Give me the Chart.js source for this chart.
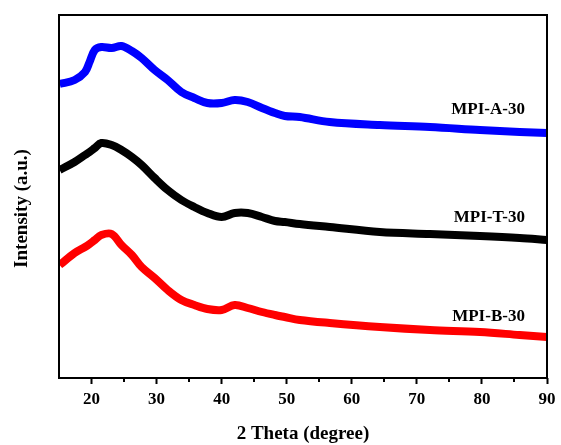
<!DOCTYPE html>
<html>
<head>
<meta charset="utf-8">
<script src="https://cdn.jsdelivr.net/npm/chart.js@4"></script>
<style>
  html, body { margin: 0; padding: 0; background: #fff; }
  #wrap { width: 561px; height: 445px; }
</style>
</head>
<body>
<div id="wrap"><canvas id="xrd"></canvas></div>
<script>
/* XRD patterns of MPI-A/T/B-30 — broad amorphous halos */
const theta = [15.1, 17.4, 19.0, 19.7, 20.5, 21.5, 23.1, 24.6, 26.2, 27.7, 29.7, 31.7, 33.8, 35.8,
    37.8, 40.0, 42.0, 44.0, 46.2, 48.2, 49.7, 52.0, 56.6, 64.3, 72.0, 79.7, 85.8, 90.0];
const mpiA = [294, 298, 306, 316, 328, 331, 330, 332, 327, 320, 308, 298, 286, 280,
    275, 275, 278, 276, 270, 265, 262, 261, 256, 253, 251, 248, 246, 245];
const mpiT = [208, 216, 223, 226, 230, 235, 233, 228, 221, 213, 200, 188, 178, 171,
    165, 161, 165, 165, 161, 157, 156, 154, 151, 146, 144, 142, 140, 138];
const mpiB = [113, 125, 131, 134, 138, 143, 144, 133, 123, 111, 100, 88, 78, 73,
    69, 68, 73, 70, 66, 63, 61, 58, 55, 51, 48, 46, 43, 41];
const seriesNames = ['MPI-A-30', 'MPI-T-30', 'MPI-B-30'];
const labelSpots = [[86.6, 268], [86.6, 160], [86.6, 61]];
const majorTicks = [20, 30, 40, 50, 60, 70, 80, 90];
const minorTicks = [25, 35, 45, 55, 65, 75, 85];

const SERIF = '"Liberation Serif", "Times New Roman", serif';

const pts = (ys) => ys.map((y, i) => ({ x: theta[i], y }));
const line = (label, ys, color) => ({
    label,
    data: pts(ys),
    borderColor: color,
    backgroundColor: color,
    borderWidth: 8,
    borderJoinStyle: 'round',
    pointRadius: 0,
    tension: 0.35,
    fill: false,
});

const decor = {
    id: 'decor',
    afterDraw(chart) {
        const { ctx, chartArea: a, scales: { x, y } } = chart;
        ctx.save();
        // frame
        ctx.strokeStyle = '#000';
        ctx.lineWidth = 2;
        ctx.strokeRect(a.left, a.top, a.right - a.left, a.bottom - a.top);
        // minor ticks
        minorTicks.forEach((v) => {
            const px = Math.round(x.getPixelForValue(v));
            ctx.beginPath();
            ctx.moveTo(px, a.bottom);
            ctx.lineTo(px, a.bottom + 4);
            ctx.stroke();
        });
        // series labels
        ctx.fillStyle = '#000';
        ctx.font = `bold 17px ${SERIF}`;
        ctx.textAlign = 'right';
        ctx.textBaseline = 'middle';
        seriesNames.forEach((n, i) => {
            const [tx, ty] = labelSpots[i];
            ctx.fillText(n, x.getPixelForValue(tx), y.getPixelForValue(ty));
        });
        // axis titles
        ctx.font = `bold 19px ${SERIF}`;
        ctx.textAlign = 'center';
        ctx.fillText('2 Theta (degree)', (a.left + a.right) / 2, 434);
        ctx.translate(22, (a.top + a.bottom) / 2 + 12);
        ctx.rotate(-Math.PI / 2);
        ctx.fillText('Intensity (a.u.)', 0, 0);
        ctx.restore();
    },
};

new Chart(document.getElementById('xrd'), {
    type: 'line',
    data: {
        datasets: [
            line(seriesNames[0], mpiA, '#0000ff'),
            line(seriesNames[1], mpiT, '#000000'),
            line(seriesNames[2], mpiB, '#ff0000'),
        ],
    },
    options: {
        responsive: true,
        maintainAspectRatio: false,
        animation: false,
        layout: { padding: { top: 15, right: 14, left: 0, bottom: 0 } },
        plugins: { legend: { display: false }, tooltip: { enabled: false } },
        scales: {
            x: {
                type: 'linear',
                min: 15,
                max: 90,
                afterBuildTicks: (s) => { s.ticks = majorTicks.map((v) => ({ value: v })); },
                afterFit: (s) => { s.height = 67; },
                border: { display: false },
                grid: { drawOnChartArea: false, drawTicks: true, tickLength: 6, tickWidth: 2, tickColor: '#000' },
                ticks: { color: '#000', padding: 5, font: { family: SERIF, size: 17, weight: 'bold' }, maxRotation: 0 },
            },
            y: {
                min: 0,
                max: 363,
                afterFit: (s) => { s.width = 59; },
                border: { display: false },
                grid: { display: false },
                ticks: { display: false },
            },
        },
    },
    plugins: [decor],
});
</script>
</body>
</html>
